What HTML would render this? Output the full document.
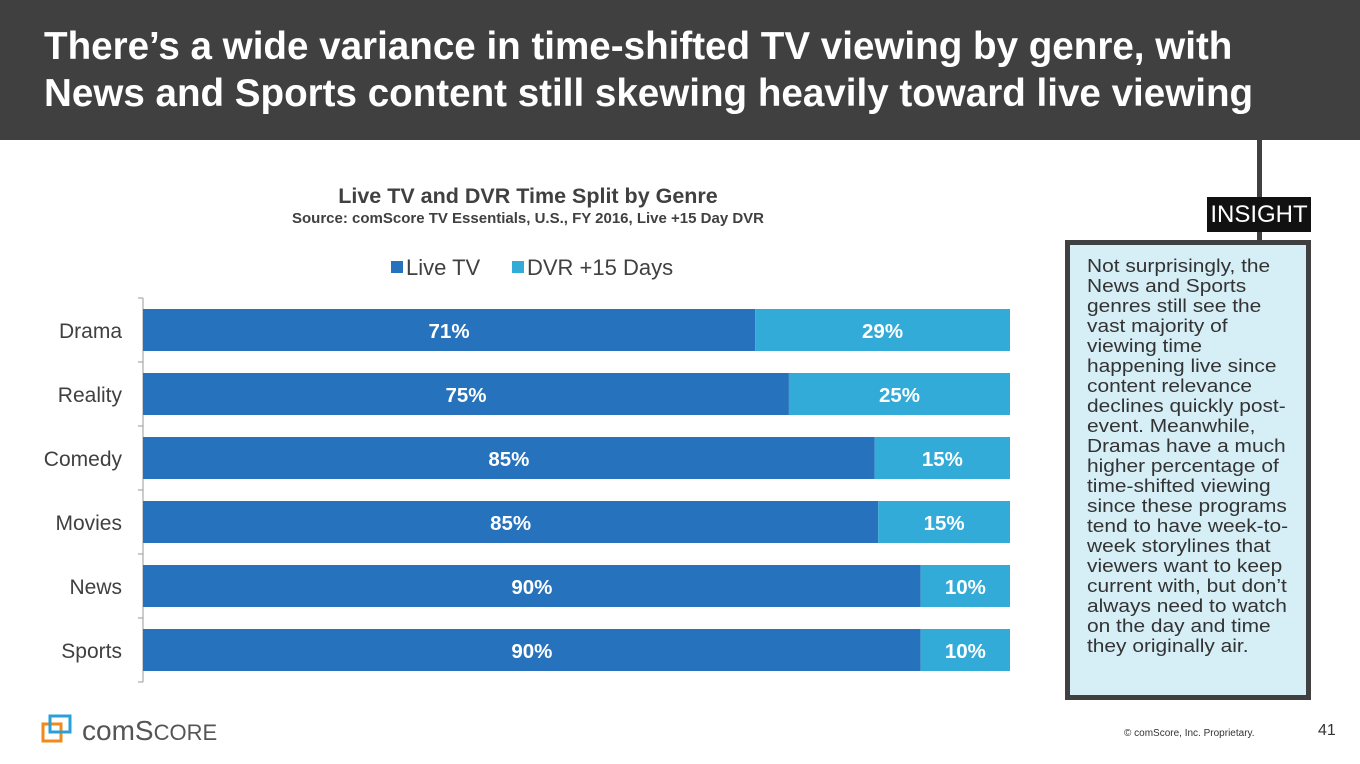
<!DOCTYPE html>
<html><head><meta charset="utf-8"><style>
body{margin:0;width:1360px;height:764px;position:relative;background:#fff;font-family:"Liberation Sans",sans-serif;overflow:hidden}
.abs{position:absolute}
</style></head><body>
<div class="abs" style="left:0;top:0;width:1360px;height:140px;background:#404040"></div>
<div class="abs" style="left:44px;top:23px;color:#fff;font-weight:bold;font-size:38.6px;line-height:47px;white-space:nowrap">There’s a wide variance in time-shifted TV viewing by genre, with<br>News and Sports content still skewing heavily toward live viewing</div>
<div class="abs" style="left:128px;top:184px;width:800px;text-align:center;font-weight:bold;font-size:21.5px;color:#404040">Live TV and DVR Time Split by Genre</div>
<div class="abs" style="left:128px;top:210px;width:800px;text-align:center;font-weight:bold;font-size:15px;color:#404040">Source: comScore TV Essentials, U.S., FY 2016, Live +15 Day DVR</div>
<svg class="abs" style="left:0;top:0" width="1360" height="764" id="chart"></svg>
<div class="abs" style="left:1257px;top:140px;width:5px;height:102px;background:#404040"></div>
<div class="abs" style="left:1207px;top:197px;width:104px;height:35px;background:#111;color:#fff;font-size:24px;line-height:35px;text-align:center;font-weight:300">INSIGHT</div>
<div class="abs" style="left:1065px;top:240px;width:236px;height:450px;border:5px solid #404040;background:#d6eef6"></div>
<div class="abs" style="left:1087px;top:256px;width:182px;font-size:18.5px;line-height:20px;color:#333;transform:scaleX(1.13);transform-origin:0 0">Not surprisingly, the News and Sports genres still see the vast majority of viewing time happening live since content relevance declines quickly post-event. Meanwhile, Dramas have a much higher percentage of time-shifted viewing since these programs tend to have week-to-week storylines that viewers want to keep current with, but don’t always need to watch on the day and time they originally air.</div>
<div class="abs" style="left:40px;top:712px;width:200px;height:34px">
<svg width="200" height="34"><rect x="3" y="12" width="18" height="17" fill="none" stroke="#f08a1c" stroke-width="3"/><rect x="10" y="4" width="20" height="16" fill="none" stroke="#2aa0d8" stroke-width="3"/><text x="42" y="28" font-family="Liberation Sans,sans-serif" font-size="28" fill="#555">comS<tspan font-size="22">CORE</tspan></text></svg></div>
<div class="abs" style="left:1124px;top:728px;font-size:10px;color:#333">© comScore, Inc. Proprietary.</div>
<div class="abs" style="left:1318px;top:722px;font-size:16px;color:#333">41</div>
<script>
const categories=["Drama","Reality","Comedy","Movies","News","Sports"];
const liveValues=[70.6,74.5,84.4,84.8,89.7,89.7];
const dvrValues=[29.4,25.5,15.6,15.2,10.3,10.3];
const liveLabels=["71%","75%","85%","85%","90%","90%"];
const dvrLabels=["29%","25%","15%","15%","10%","10%"];
const seriesNames=["Live TV","DVR +15 Days"];
const svg=document.getElementById('chart');const NS='http://www.w3.org/2000/svg';
const x0=143,x1=1010,yTop=298,band=64,barH=42;
const xs=v=>x0+(x1-x0)*v/100;
function el(t,a,p){const e=document.createElementNS(NS,t);for(const k in a)e.setAttribute(k,a[k]);(p||svg).appendChild(e);return e;}
const ax=el('line',{x1:x0,y1:yTop,x2:x0,y2:yTop+band*categories.length,stroke:'#999'});


for(let i=0;i<=categories.length;i++){const t=el('line',{x1:x0-5,x2:x0,y1:yTop+band*i,y2:yTop+band*i,stroke:'#999'});

}
const cols=['#2672bc','#33abd8'];
categories.forEach((c,i)=>{const cy=yTop+band*i+band/2;
const lab=el('text',{x:122,y:cy+8,'text-anchor':'end','font-size':21,fill:'#404040'});lab.textContent=c;


const a=xs(0),b=xs(liveValues[i]),d=xs(liveValues[i]+dvrValues[i]);
const r1=el('rect',{x:a,y:cy-barH/2,width:b-a,height:barH,fill:cols[0]});


const r2=el('rect',{x:b,y:cy-barH/2,width:d-b,height:barH,fill:cols[1]});


const t1=el('text',{x:(a+b)/2,y:cy+8,'text-anchor':'middle','font-size':20.5,'font-weight':'bold',fill:'#fff'});t1.textContent=liveLabels[i];


const t2=el('text',{x:(b+d)/2,y:cy+8,'text-anchor':'middle','font-size':20.5,'font-weight':'bold',fill:'#fff'});t2.textContent=dvrLabels[i];

});
const lx=[391,512];
seriesNames.forEach((n,i)=>{const r=el('rect',{x:lx[i],y:261,width:12,height:12,fill:cols[i]});


const t=el('text',{x:lx[i]+15,y:275,'font-size':22,fill:'#404040'});t.textContent=n;

});
</script>
</body></html>
